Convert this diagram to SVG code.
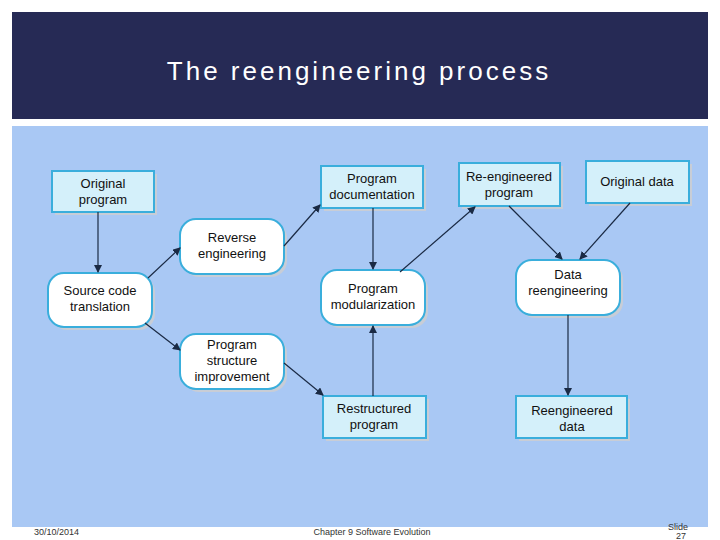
<svg xmlns="http://www.w3.org/2000/svg" width="720" height="540" viewBox="0 0 720 540">
<style>
.bx{fill:#d4f0fa;stroke:#3aaedc;stroke-width:2}
.rb{fill:#fff;stroke:#3aaedc;stroke-width:2}
.sh{fill:#c8cdd6}
.t{font-family:"Liberation Sans",sans-serif;font-size:13px;fill:#111;text-anchor:middle}
.c line{stroke:#1a2a44;stroke-width:1.2;marker-end:url(#a)}
.f{font-family:"Liberation Sans",sans-serif;font-size:9px;fill:#333}
</style>
<defs><marker id="a" markerWidth="8" markerHeight="8" refX="7" refY="4" orient="auto" markerUnits="userSpaceOnUse"><path d="M0,0 L8,4 L0,8 z" fill="#1a2a44"/></marker></defs>
<rect width="720" height="540" fill="#fff"/>
<rect x="12" y="12" width="696" height="107" fill="#262a55"/>
<text x="359" y="80" font-family="Liberation Sans,sans-serif" font-size="26" fill="#fff" text-anchor="middle" letter-spacing="3">The reengineering process</text>
<rect x="12" y="126" width="696" height="401" fill="#a9c8f4"/>
<g id="orig"><rect class="sh" x="55" y="174" width="102" height="41"/><rect class="bx" x="52" y="171" width="102" height="41"/><text class="t" x="103" y="188">Original</text><text class="t" x="103" y="204">program</text></g>
<g id="doc"><rect class="sh" x="324" y="169" width="102" height="42"/><rect class="bx" x="321" y="166" width="102" height="42"/><text class="t" x="372" y="183">Program</text><text class="t" x="372" y="199">documentation</text></g>
<g id="reprog"><rect class="sh" x="462" y="166" width="101" height="43"/><rect class="bx" x="459" y="163" width="101" height="43"/><text class="t" x="509" y="181">Re-engineered</text><text class="t" x="509" y="197">program</text></g>
<g id="odata"><rect class="sh" x="589" y="164" width="103" height="42"/><rect class="bx" x="586" y="161" width="103" height="42"/><text class="t" x="637" y="186">Original data</text></g>
<g id="restr"><rect class="sh" x="326" y="399" width="103" height="42"/><rect class="bx" x="323" y="396" width="103" height="42"/><text class="t" x="374" y="413">Restructured</text><text class="t" x="374" y="429">program</text></g>
<g id="rdata"><rect class="sh" x="519" y="399" width="111" height="42"/><rect class="bx" x="516" y="396" width="111" height="42"/><text class="t" x="572" y="415">Reengineered</text><text class="t" x="572" y="431">data</text></g>
<g id="rev"><rect class="sh" x="183" y="222" width="104" height="55" rx="16"/><rect class="rb" x="180" y="219" width="104" height="55" rx="16"/><text class="t" x="232" y="242">Reverse</text><text class="t" x="232" y="258">engineering</text></g>
<g id="src"><rect class="sh" x="51" y="276" width="104" height="54" rx="16"/><rect class="rb" x="48" y="273" width="104" height="54" rx="16"/><text class="t" x="100" y="295">Source code</text><text class="t" x="100" y="311">translation</text></g>
<g id="psi"><rect class="sh" x="183" y="337" width="104" height="55" rx="16"/><rect class="rb" x="180" y="334" width="104" height="55" rx="16"/><text class="t" x="232" y="349">Program</text><text class="t" x="232" y="365">structure</text><text class="t" x="232" y="381">improvement</text></g>
<g id="mod"><rect class="sh" x="324" y="273" width="104" height="55" rx="16"/><rect class="rb" x="321" y="270" width="104" height="55" rx="16"/><text class="t" x="373" y="293">Program</text><text class="t" x="373" y="309">modularization</text></g>
<g id="dre"><rect class="sh" x="519" y="263" width="104" height="55" rx="16"/><rect class="rb" x="516" y="260" width="104" height="55" rx="16"/><text class="t" x="568" y="279">Data</text><text class="t" x="568" y="295">reengineering</text></g>
<g class="c" id="connectors">
<line x1="98" y1="212" x2="98" y2="272"/>
<line x1="148" y1="278" x2="180" y2="248"/>
<line x1="284" y1="246" x2="320" y2="205"/>
<line x1="145" y1="323" x2="180" y2="350"/>
<line x1="284" y1="363" x2="323" y2="395"/>
<line x1="373" y1="208" x2="373" y2="269"/>
<line x1="373" y1="396" x2="373" y2="326"/>
<line x1="400" y1="272" x2="475" y2="207"/>
<line x1="509" y1="206" x2="562" y2="259"/>
<line x1="630" y1="203" x2="580" y2="259"/>
<line x1="568" y1="315" x2="568" y2="395"/>
</g>
<text class="f" x="34" y="535">30/10/2014</text>
<text class="f" x="372" y="535" text-anchor="middle">Chapter 9 Software Evolution</text>
<text class="f" x="668" y="530">Slide</text>
<text class="f" x="676" y="539">27</text>
</svg>
